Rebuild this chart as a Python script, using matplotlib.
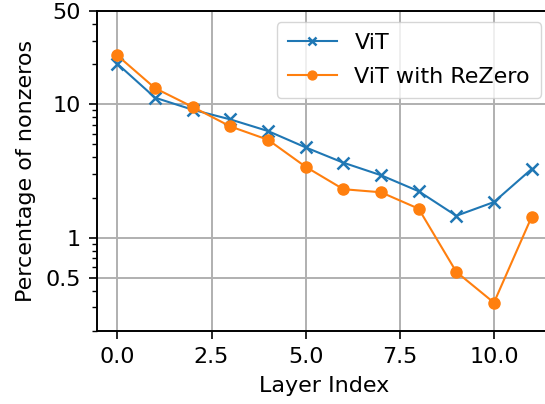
import matplotlib
matplotlib.use("Agg")
import matplotlib.pyplot as plt
from matplotlib.ticker import FixedLocator, FixedFormatter, LogLocator, NullFormatter

layers = list(range(12))
vit = [20.1, 11.2, 9.1, 7.7, 6.3, 4.75, 3.65, 2.94, 2.23, 1.46, 1.85, 3.27]
vit_rezero = [23.2, 13.2, 9.55, 6.82, 5.42, 3.40, 2.31, 2.19, 1.65, 0.555, 0.326, 1.43]

y_ticks = [0.5, 1, 10, 50]
y_ticklabels = ["0.5", "1", "10", "50"]

plt.rcParams["font.size"] = 16
plt.rcParams["axes.linewidth"] = 1.4
plt.rcParams["axes.labelpad"] = 6.4
plt.rcParams["xtick.major.size"] = 6
plt.rcParams["ytick.major.size"] = 6
plt.rcParams["ytick.minor.size"] = 3.5
plt.rcParams["xtick.major.pad"] = 5.6
plt.rcParams["ytick.major.pad"] = 5.6
plt.rcParams["xtick.major.width"] = 1.2
plt.rcParams["ytick.major.width"] = 1.2
plt.rcParams["ytick.minor.width"] = 1.0

fig = plt.figure(figsize=(5.45, 4.04), dpi=100)
# axes run past the right edge, as in the cropped original
ax = fig.add_axes([0.1774, 0.1807, 0.836, 0.7921])

ax.plot(layers, vit, marker="x", markersize=8, markeredgewidth=1.8,
        linewidth=1.5, color="tab:blue", label="ViT")
ax.plot(layers, vit_rezero, marker="o", markersize=8,
        linewidth=1.5, color="tab:orange", label="ViT with ReZero")

ax.set_yscale("log")
ax.set_ylim(0.2, 50)
ax.set_xlim(-0.55, 11.55)
ax.yaxis.set_major_locator(FixedLocator(y_ticks))
ax.yaxis.set_major_formatter(FixedFormatter(y_ticklabels))
ax.yaxis.set_minor_locator(LogLocator(base=10, subs=range(2, 10)))
ax.yaxis.set_minor_formatter(NullFormatter())
ax.set_xticks([0, 2.5, 5, 7.5, 10])

ax.grid(True, which="major", color="#b0b0b0", linewidth=1.4)
ax.set_xlabel("Layer Index")
ax.set_ylabel("Percentage of nonzeros")
ax.legend(loc="upper right", markerscale=0.8, handlelength=2.2,
          labelspacing=0.6, borderpad=0.5)

fig.savefig("out.png", dpi=100)
